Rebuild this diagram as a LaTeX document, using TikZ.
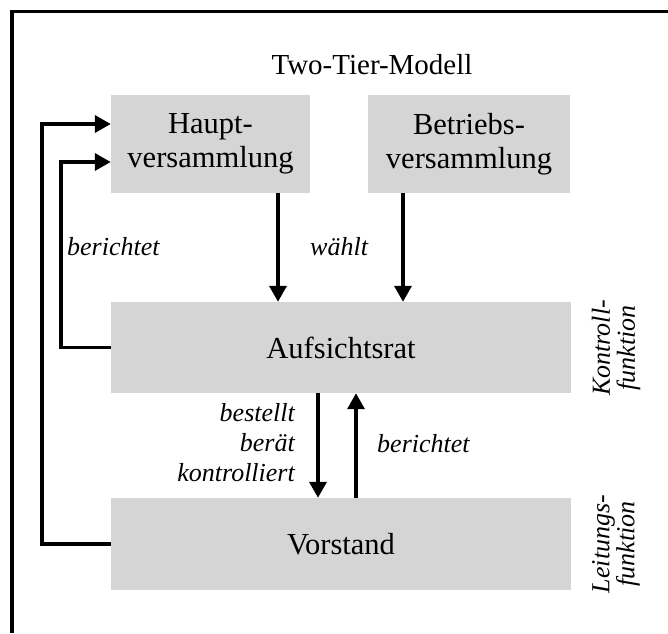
\documentclass[tikz,border=0pt]{standalone}
\usepackage{fontspec}
\setmainfont{Liberation Serif}
\usetikzlibrary{arrows.meta}
\definecolor{boxgray}{RGB}{213,213,213}
\begin{document}
\begin{tikzpicture}[x=1pt,y=-1pt,
  box/.style={fill=boxgray, draw=none, inner sep=0pt, align=center,
    font=\fontsize{30.5}{34}\selectfont},
  conn/.style={line width=3.5pt, -{Triangle[length=16pt,width=17pt]}},
  lab/.style={font=\fontsize{26}{30}\itshape\selectfont, inner sep=0pt},
  side/.style={font=\fontsize{26}{25}\itshape\selectfont, inner sep=0pt,
    rotate=90, align=center},
  frame/.style={line width=3.5pt}]
\useasboundingbox (0,0) rectangle (668,633);

% open frame: top and left edges
\coordinate (fbl) at (12,633);
\coordinate (ftl) at (12,11.5);
\coordinate (ftr) at (668,11.5);
\draw[frame] (fbl) -- (ftl) -- (ftr);

% title
\node[font=\fontsize{29}{34}\selectfont, anchor=base, inner sep=0pt] (title)
  at (372,74) {Two-Tier-Modell};

% organs
\node[box, minimum width=199pt, minimum height=98pt] (haupt) at (210.5,144)
  {Haupt-\\versammlung};
\node[box, minimum width=202pt, minimum height=98pt] (betrieb) at (469,144)
  {Betriebs-\\versammlung};
\node[box, minimum width=460pt, minimum height=91pt] (aufsicht) at (341,347.5)
  {Aufsichtsrat};
\node[box, minimum width=460pt, minimum height=92pt] (vorstand) at (341,544)
  {Vorstand};

% elections
\draw[conn] ([xshift=67.5pt]haupt.south) -- ([xshift=67.5pt]haupt.south |- aufsicht.north);
\draw[conn] ([xshift=-66pt]betrieb.south) -- ([xshift=-66pt]betrieb.south |- aufsicht.north);
\node[lab, anchor=base west] (waehlt) at (310,255) {wählt};

% reporting loops back to the general meeting
\draw[conn] (aufsicht.west) -- ++(-50,0) |- ([yshift=-18pt]haupt.west);
\node[lab, anchor=base west] (berA) at (67,255) {berichtet};
\draw[conn] (vorstand.west) -- ++(-69,0) |- ([yshift=20pt]haupt.west);

% supervisory board <-> management board
\draw[conn] ([xshift=-23pt]aufsicht.south) -- ([xshift=-23pt]aufsicht.south |- vorstand.north);
\draw[conn] ([xshift=15pt]vorstand.north) -- ([xshift=15pt]vorstand.north |- aufsicht.south);
\node[lab, align=right, anchor=east] (bestellt) at (295,443)
  {bestellt\\berät\\kontrolliert};
\node[lab, anchor=base west] (berB) at (377,452) {berichtet};

% functions
\node[side] (kontroll) at (616,348) {Kontroll-\\funktion};
\node[side] (leitung) at (616,544) {Leitungs-\\funktion};
\end{tikzpicture}
\end{document}
